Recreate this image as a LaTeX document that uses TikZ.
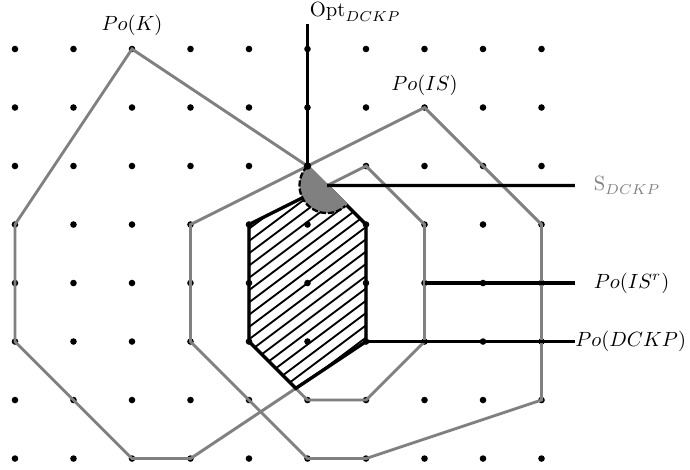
\documentclass[tikz,border=0pt]{standalone}
\usepackage{amsmath}
\usepackage{amssymb}
\usepackage{tikz}
\usepackage{xcolor}
\usetikzlibrary{positioning}

\definecolor{polygray}{gray}{0.5}

\begin{document}
\begin{tikzpicture}[
    dot/.style={circle, fill=black, inner sep=0pt, minimum size=3.2pt},
    hull/.style={draw=polygray, line width=1.4pt, line join=miter},
    region/.style={draw=black, line width=1.6pt, line join=miter},
    leader/.style={draw=black, line width=1.6pt},
    hatchline/.style={black, line width=0.9pt},
    lbl/.style={inner sep=3.3pt}
]
\useasboundingbox (-0.256,-0.179) rectangle (11.538,7.838);

% Grid of points
\foreach \i in {0,...,9}
  \foreach \j in {0,...,7}
    \node[dot] (p\i\j) at (\i,\j) {};

% Po(K)
\draw[hull] (0,4) -- (2,7) -- (5,5) -- (6,4) -- (6,2) -- (3,0) -- (2,0) -- (0,2) -- cycle;

% Po(IS)
\draw[hull] (3,4) -- (7,6) -- (9,4) -- (9,1) -- (6,0) -- (5,0) -- (3,2) -- cycle;

% Po(IS^r)
\draw[hull] (4,4) -- (6,5) -- (7,4) -- (7,2) -- (6,1) -- (5,1) -- (4,2) -- cycle;

% Po(DCKP), hatched
\coordinate (cap) at (5.3333,4.6667);
\coordinate (low) at (4.8,1.2);
\begin{scope}
  \clip (4,4) -- (cap) -- (6,4) -- (6,2) -- (low) -- (4,2) -- cycle;
  \foreach \k in {-15,...,2}
    \draw[hatchline] (3.8,{3.358+0.21*\k}) -- ++(36.87:3.5);
\end{scope}
\draw[region] (4,4) -- (cap) -- (6,4) -- (6,2) -- (low) -- (4,2) -- cycle;

% S_DCKP
\fill[polygray] (5,5) arc[start angle=135, end angle=315, radius=0.4714] -- cycle;
\draw[black, line width=1.1pt, dash pattern=on 3pt off 1pt] (5,5) arc[start angle=135, end angle=315, radius=0.4714];
\draw[hull] (5,5) -- (5.6667,4.3333);

% Opt_DCKP
\node[dot, minimum size=3.6pt] (opt) at (5,5) {};
\coordinate (opttop) at (5,7.43);
\draw[leader] (opt.center) -- (opttop);
\node[inner sep=1pt, above right=0pt and 0pt of opttop] (optlbl) {$\mathrm{Opt}_{DCKP}$};

% Labels
\node[lbl, above=0.05 of p27] (lblK) {$Po(K)$};
\node[lbl, above=0.02 of p76] (lblIS) {$Po(IS)$};

\coordinate (send) at (9.57,4.667);
\draw[leader] (cap) -- (send);
\node[lbl, right=0.2 of send, text=polygray] (lblS) {$\mathrm{S}_{DCKP}$};

\coordinate (isrend) at (9.57,3);
\draw[leader] (p73.center) -- (isrend);
\node[lbl, right=0.2 of isrend] (lblISr) {$Po(IS^r)$};

\coordinate (dend) at (9.57,2);
\draw[leader] (p62.center) -- (dend);
\node[inner sep=0pt, right=0pt of dend] (lblD) {$Po(DCKP)$};

\end{tikzpicture}
\end{document}
